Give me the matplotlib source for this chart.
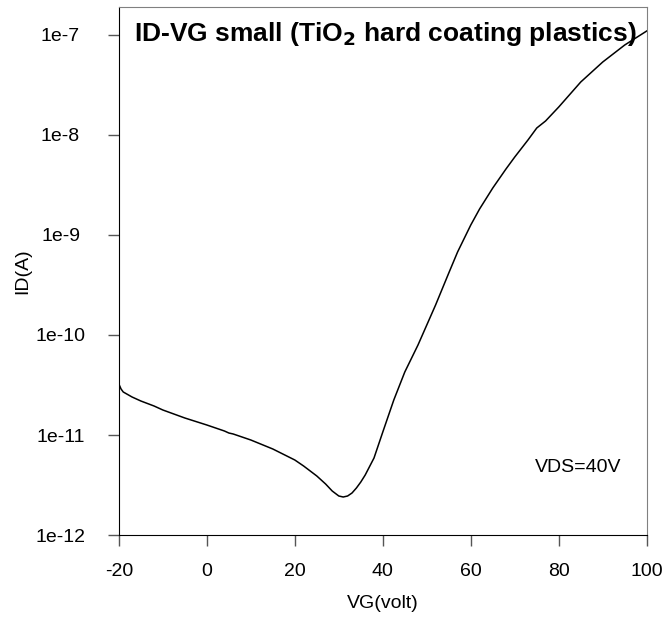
import numpy as np
import matplotlib.pyplot as plt
from matplotlib.ticker import FixedLocator, FixedFormatter

plt.rcParams['font.family'] = ['Liberation Sans', 'DejaVu Sans']
plt.rcParams['axes.unicode_minus'] = False

# VG (volt) and ID (A)
vg = [-20, -19.5, -19, -17, -15, -12, -10, -5, 0, 4, 5, 6, 10, 15, 20, 22, 25, 27, 28.5,
      30, 31, 32, 33, 34, 35, 36, 38, 40, 42.5, 45, 48, 50, 52, 55, 57, 60, 62, 65,
      68, 70, 73, 75, 77, 80, 85, 90, 95, 100]
log_id = [-10.49, -10.54, -10.57, -10.62, -10.66, -10.71, -10.75, -10.83, -10.90, -10.96,
          -10.98, -10.99, -11.05, -11.14, -11.25, -11.31, -11.41, -11.49, -11.56,
          -11.61, -11.62, -11.61, -11.58, -11.53, -11.47, -11.40, -11.23, -10.97,
          -10.65, -10.37, -10.10, -9.90, -9.70, -9.38, -9.17, -8.90, -8.74, -8.53,
          -8.34, -8.22, -8.05, -7.93, -7.86, -7.72, -7.47, -7.27, -7.10, -6.96]
id_a = [10 ** v for v in log_id]

yticks = [1e-12, 1e-11, 1e-10, 1e-9, 1e-8, 1e-7]
ylabels = ['1e-12', '1e-11', '1e-10', '1e-9', '1e-8', '1e-7']
xticks = [-20, 0, 20, 40, 60, 80, 100]

fig = plt.figure(figsize=(6.64, 6.19), dpi=100)
ax = fig.add_axes([0.179, 0.1357, 0.795, 0.853])
ax.plot(vg, id_a, color='black', lw=1.1)
ax.set_yscale('log')
ax.set_xlim(-20, 100)
ax.set_ylim(1e-12, 10 ** -6.72)
ax.yaxis.set_major_locator(FixedLocator(yticks))
ax.yaxis.set_major_formatter(FixedFormatter(ylabels))
ax.yaxis.set_minor_locator(FixedLocator([]))
ax.set_xticks(xticks)
ax.tick_params(direction='out', length=8, width=1, color='#555555', labelsize=14)
ax.tick_params(axis='x', pad=12)
ax.tick_params(axis='y', pad=34)
for lab in ax.get_yticklabels():
    lab.set_horizontalalignment('center')
for side in ['top', 'right']:
    ax.spines[side].set_color('#808080')
ax.set_xlabel('VG(volt)', fontsize=14, labelpad=11)
ax.set_ylabel('ID(A)', fontsize=14, labelpad=3)
ax.text(0.505, 0.975, 'ID-VG small (TiO$_\\mathbf{2}$ hard coating plastics)',
        transform=ax.transAxes, ha='center', va='top', fontsize=19, fontweight='bold')
ax.text(84.3, 10 ** -11.32, 'VDS=40V', ha='center', va='center', fontsize=14)

fig.savefig('out.png', dpi=100)
